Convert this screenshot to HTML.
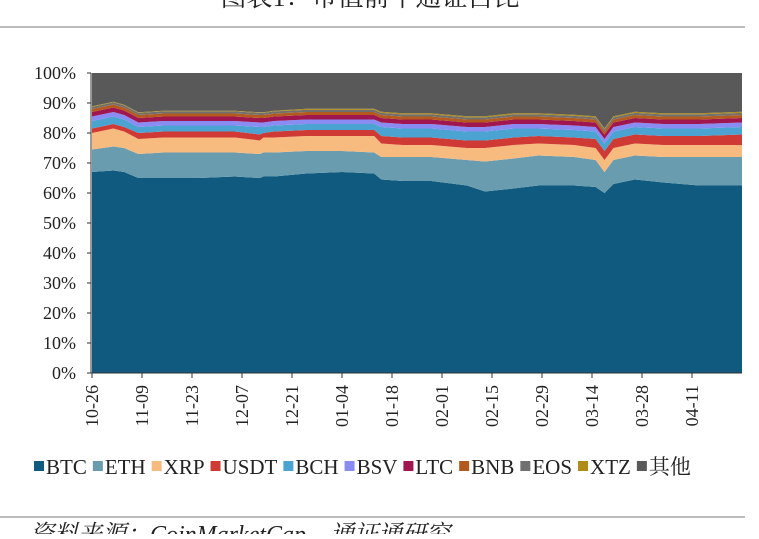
<!DOCTYPE html>
<html><head><meta charset="utf-8"><style>
body{margin:0;background:#fff;width:759px;height:534px;overflow:hidden;font-family:"Liberation Serif","Noto Serif CJK SC",serif;}
</style></head><body>
<svg width="759" height="534" xmlns="http://www.w3.org/2000/svg">
<text x="370" y="6" text-anchor="middle" font-size="26" fill="#222" font-family="Liberation Serif, Noto Serif CJK SC, serif">图表1：市值前十通证占比</text>
<line x1="0" y1="27" x2="745" y2="27" stroke="#bbb" stroke-width="2"/>
<g id="plot"></g>
<g id="axes"></g>
<g id="legend"></g>
<line x1="0" y1="517" x2="745" y2="517" stroke="#bbb" stroke-width="2"/>
<text x="30" y="542" font-size="24" font-style="italic" fill="#222">资料来源：CoinMarketCap，通证通研究</text>
</svg>
<script>
const days=[0,6,9,13,20,30,40,47,48,51,60,70,79,81,87,95,105,110,118,125,135,141,143.5,146,152,160,170,182];
const btc=[67,67.5,67,65,65,65,65.5,65,65.5,65.5,66.5,67,66.5,64.5,64,64,62.5,60.5,61.5,62.5,62.5,62,60,63,64.5,63.5,62.5,62.5];
const eth=[7.5,8,8,8,8.5,8.5,8,8,8,8,7.5,7,7,7.5,8,8,8.5,10,10,10,9.5,9,7,8,8,8.5,9.5,9.5];
const xrp=[5.5,6,5.5,5,5,5,5,4.5,5,5,5,5,5.5,4.5,4,4,4,4.5,4.5,4,4,4,4,4,4,4,4,4];
const usdt=[1.5,1.5,1.5,2,2,2,2,2,1.5,2,2,2,2,2.5,2.5,2.5,2.5,2.5,2.5,2.5,2.5,3,3,3,3,3,3,3.5];
const bch=[2.5,2.5,2.5,2,2,2,2,2.5,2,2,2,2,2,3,3,3,3,3,3,2.5,2.5,2.5,2.5,2.5,2.5,2.5,2.5,2.5];
const bsv=[1.5,1.5,1.5,1.5,1.5,1.5,1.5,1.5,1.5,1.5,1.5,1.5,1.5,1.5,1.5,1.5,1.5,1.5,1.5,1.5,1.5,1.5,1.5,1.5,1.5,1.5,1.5,1.5];
const ltc=[1.5,1.5,1.5,1.5,1.5,1.5,1.5,1.5,1.5,1.5,1.5,1.5,1.5,1.5,1.5,1.5,1.5,1.5,1.5,1.5,1.5,1.5,1.5,1.5,1.5,1.5,1.5,1.5];
const bnb=[1,1,1,1,1,1,1,1,1,1,1,1,1,1,1,1,1,1,1,1,1,1,1,1,1,1,1,1];
const eos=[0.7,0.7,0.7,0.7,0.7,0.7,0.7,0.7,0.7,0.7,0.7,0.7,0.7,0.7,0.7,0.7,0.7,0.7,0.7,0.7,0.7,0.7,0.7,0.7,0.7,0.7,0.7,0.7];
const xtz=[0.2,0.2,0.2,0.2,0.2,0.2,0.2,0.2,0.2,0.2,0.4,0.4,0.4,0.4,0.4,0.4,0.4,0.4,0.4,0.4,0.4,0.4,0.4,0.4,0.4,0.4,0.4,0.4];
const names=["BTC","ETH","XRP","USDT","BCH","BSV","LTC","BNB","EOS","XTZ","其他"];
const yTicks=[0,10,20,30,40,50,60,70,80,90,100];
const xTickDays=[0,14,28,42,56,70,84,98,112,126,140,154,168];
const xTickLabels=["10-26","11-09","11-23","12-07","12-21","01-04","01-18","02-01","02-15","02-29","03-14","03-28","04-11"];
const colors=["#0f5a7e","#6a9cb0","#f7bb7f","#d03a35","#4aa3d0","#8b8cf3","#a0174f","#b45a1e","#707070","#b08c16","#595959"];
const X0=92,X1=742,Y0=373,Y1=73,D1=182;
const xs=d=>X0+(d/D1)*(X1-X0);
const ys=v=>Y0-(v/100)*(Y0-Y1);
const series=[btc,eth,xrp,usdt,bch,bsv,ltc,bnb,eos,xtz];
const NS="http://www.w3.org/2000/svg";
const plot=document.getElementById('plot');
let base=days.map(()=>0);
for(let s=0;s<11;s++){
  const vals=s<10?series[s]:days.map(()=>0);
  const top=s<10?base.map((b,i)=>b+vals[i]):days.map(()=>100);
  let p="M"+days.map((d,i)=>xs(d)+","+ys(top[i])).join(" L");
  for(let i=days.length-1;i>=0;i--)p+=" L"+xs(days[i])+","+ys(base[i]);
  p+="Z";
  const el=document.createElementNS(NS,'path');
  el.setAttribute('d',p);el.setAttribute('fill',colors[s]);
  
  
  plot.appendChild(el);
  base=top;
}
const ax=document.getElementById('axes');
function mk(tag,attrs,text){const e=document.createElementNS(NS,tag);for(const k in attrs)e.setAttribute(k,attrs[k]);if(text!==undefined)e.textContent=text;ax.appendChild(e);return e;}
const yl=mk('line',{x1:X0-1,y1:Y1,x2:X0-1,y2:Y0,stroke:'#333'});


const xl=mk('line',{x1:X0-1,y1:Y0,x2:X1,y2:Y0,stroke:'#333'});


yTicks.forEach(v=>{
  mk('line',{x1:X0-5,y1:ys(v),x2:X0-1,y2:ys(v),stroke:'#333'});
  const t=mk('text',{x:76,y:ys(v)+6,'text-anchor':'end','font-size':18,fill:'#222'},v+'%');
  
  
});
xTickDays.forEach((d,i)=>{
  const x=xs(d);
  mk('line',{x1:x,y1:Y0,x2:x,y2:Y0+5,stroke:'#333'});
  const t=mk('text',{x:0,y:0,'text-anchor':'end','font-size':18,fill:'#222',transform:`translate(${x+6},${Y0+12}) rotate(-90)`},xTickLabels[i]);
  
  
});
const lg=document.getElementById('legend');
let lx=34;
names.forEach((n,i)=>{
  const r=document.createElementNS(NS,'rect');
  r.setAttribute('x',lx);r.setAttribute('y',461);r.setAttribute('width',10);r.setAttribute('height',10);r.setAttribute('fill',colors[i]);
  
  
  lg.appendChild(r);
  const t=document.createElementNS(NS,'text');
  t.setAttribute('x',lx+12);t.setAttribute('y',474);t.setAttribute('font-size',21);t.setAttribute('fill','#222');
  t.textContent=n;
  
  
  lg.appendChild(t);
  lx+=12+t.getComputedTextLength()+6;
});
</script>
</body></html>
